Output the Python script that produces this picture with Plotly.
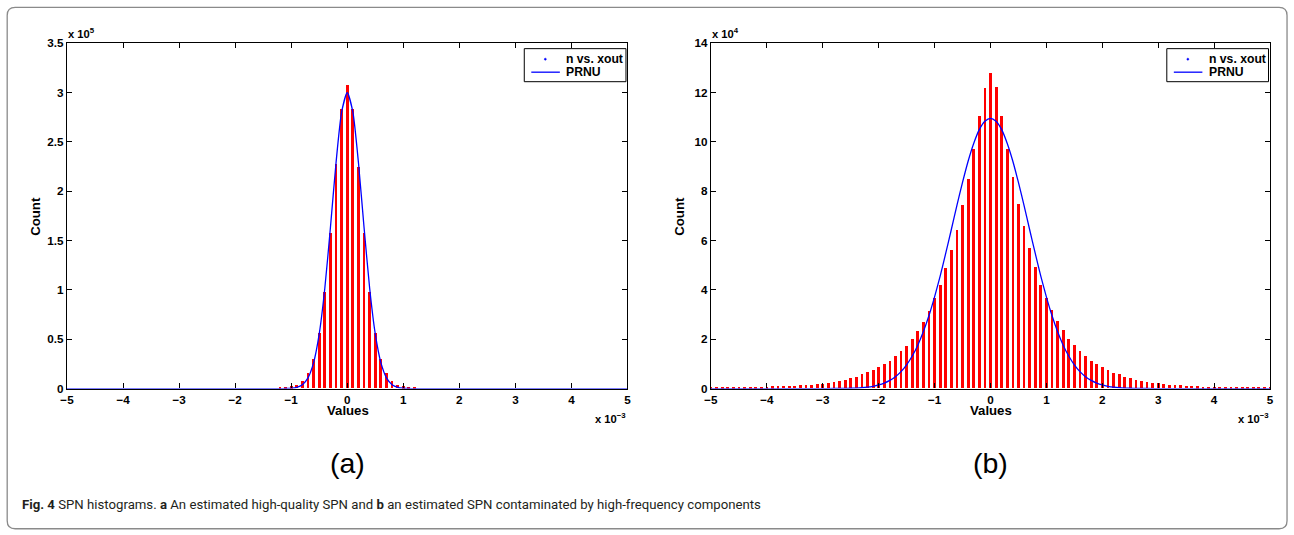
import plotly.graph_objects as go

W, H = 1294, 535

# measured photo mapping of this page (photo = a * page + b); invert it so that
# marks land at the reference pixel positions
SX, OX = 0.9896, 8.41
SY, OY = 0.9745, 6.4


def px(x):
    return ((x - OX) / SX) / W


def py(y):
    return 1 - ((y - OY) / SY) / H


# ---------------- data ----------------
# histogram bin centres (units of 1e-3)
bin_centers = [
    -5.0, -4.9, -4.8, -4.7, -4.6, -4.5, -4.4, -4.3, -4.2, -4.1,
    -4.0, -3.9, -3.8, -3.7, -3.6, -3.5, -3.4, -3.3, -3.2, -3.1,
    -3.0, -2.9, -2.8, -2.7, -2.6, -2.5, -2.4, -2.3, -2.2, -2.1,
    -2.0, -1.9, -1.8, -1.7, -1.6, -1.5, -1.4, -1.3, -1.2, -1.1,
    -1.0, -0.9, -0.8, -0.7, -0.6, -0.5, -0.4, -0.3, -0.2, -0.1,
    0.0,
    0.1, 0.2, 0.3, 0.4, 0.5, 0.6, 0.7, 0.8, 0.9, 1.0,
    1.1, 1.2, 1.3, 1.4, 1.5, 1.6, 1.7, 1.8, 1.9, 2.0,
    2.1, 2.2, 2.3, 2.4, 2.5, 2.6, 2.7, 2.8, 2.9, 3.0,
    3.1, 3.2, 3.3, 3.4, 3.5, 3.6, 3.7, 3.8, 3.9, 4.0,
    4.1, 4.2, 4.3, 4.4, 4.5, 4.6, 4.7, 4.8, 4.9, 5.0,
]

# (a) counts, units of 1e5
counts_a = [
    0, 0, 0, 0, 0, 0, 0, 0, 0, 0,
    0, 0, 0, 0, 0, 0, 0, 0, 0, 0,
    0, 0, 0, 0, 0, 0, 0, 0, 0, 0,
    0, 0, 0, 0, 0, 0, 0, 0, 0.005, 0.01,
    0.02, 0.036, 0.076, 0.155, 0.30, 0.56, 0.98, 1.57, 2.27, 2.83,
    3.07,
    2.83, 2.24, 1.57, 0.98, 0.56, 0.30, 0.155, 0.076, 0.036, 0.02,
    0.012, 0.005, 0, 0, 0, 0, 0, 0, 0, 0,
    0, 0, 0, 0, 0, 0, 0, 0, 0, 0,
    0, 0, 0, 0, 0, 0, 0, 0, 0, 0,
    0, 0, 0, 0, 0, 0, 0, 0, 0, 0,
]

# (b) counts, units of 1e4
counts_b = [
    0.02, 0.02, 0.025, 0.03, 0.035, 0.04, 0.045, 0.05, 0.055, 0.06,
    0.07, 0.075, 0.08, 0.09, 0.10, 0.11, 0.12, 0.13, 0.15, 0.17,
    0.19, 0.22, 0.25, 0.29, 0.34, 0.40, 0.47, 0.56, 0.65, 0.74,
    0.87, 0.99, 1.12, 1.30, 1.49, 1.73, 2.01, 2.34, 2.70, 3.15,
    3.64, 4.20, 4.86, 5.62, 6.43, 7.42, 8.47, 9.69, 11.02, 12.18,
    12.77,
    12.23, 11.03, 9.69, 8.55, 7.48, 6.56, 5.67, 4.92, 4.20, 3.67,
    3.18, 2.72, 2.37, 2.01, 1.74, 1.52, 1.32, 1.12, 0.97, 0.85,
    0.74, 0.63, 0.56, 0.47, 0.42, 0.35, 0.31, 0.26, 0.23, 0.21,
    0.18, 0.15, 0.14, 0.12, 0.11, 0.09, 0.08, 0.07, 0.07, 0.06,
    0.05, 0.045, 0.04, 0.035, 0.03, 0.025, 0.02, 0.02, 0.015, 0.01,
]

# PRNU fitted curve
fit_x_a = [-5.0, -1.4, -1.2, -1.1, -1.0, -0.9, -0.8, -0.7, -0.6, -0.5, -0.4,
           -0.3, -0.2, -0.1, 0.0, 0.1, 0.2, 0.3, 0.4, 0.5, 0.6, 0.7, 0.8,
           0.9, 1.0, 1.1, 1.2, 1.4, 5.0]
fit_y_a = [0, 0, 0.0002, 0.0009, 0.0035, 0.0126, 0.0397, 0.109, 0.263, 0.554,
           1.017, 1.633, 2.289, 2.804, 3.00, 2.804, 2.289, 1.633, 1.017, 0.554,
           0.263, 0.109, 0.0397, 0.0126, 0.0035, 0.0009, 0.0002, 0, 0]

fit_x_b = [-5.0, -3.0, -2.8, -2.6, -2.5, -2.4, -2.3, -2.2, -2.1, -2.0, -1.9,
           -1.8, -1.7, -1.6, -1.5, -1.4, -1.3, -1.2, -1.1, -1.0, -0.9, -0.8,
           -0.7, -0.6, -0.5, -0.4, -0.3, -0.2, -0.1, 0.0, 0.1, 0.2, 0.3, 0.4,
           0.5, 0.6, 0.7, 0.8, 0.9, 1.0, 1.1, 1.2, 1.3, 1.4, 1.5, 1.6, 1.7,
           1.8, 1.9, 2.0, 2.1, 2.2, 2.3, 2.4, 2.5, 2.6, 2.8, 3.0, 5.0]
fit_y_b = [0, 0.0006, 0.002, 0.0073, 0.0127, 0.0216, 0.036, 0.0585, 0.093,
           0.145, 0.221, 0.330, 0.482, 0.688, 0.962, 1.32, 1.76, 2.31, 2.96,
           3.72, 4.56, 5.49, 6.45, 7.43, 8.36, 9.22, 9.94, 10.50, 10.84, 10.96,
           10.84, 10.50, 9.94, 9.22, 8.36, 7.43, 6.45, 5.49, 4.56, 3.72, 2.96,
           2.31, 1.76, 1.32, 0.962, 0.688, 0.482, 0.330, 0.221, 0.145, 0.093,
           0.0585, 0.036, 0.0216, 0.0127, 0.0073, 0.002, 0.0006, 0]

x_ticks = [-5, -4, -3, -2, -1, 0, 1, 2, 3, 4, 5]
y_ticks_a = [0, 0.5, 1, 1.5, 2, 2.5, 3, 3.5]
y_ticks_b = [0, 2, 4, 6, 8, 10, 12, 14]
legend_labels = ["n vs. xout", "PRNU"]
panel_labels = ["(a)", "(b)"]
exp_y = ["5", "4"]
caption_parts = ["Fig. 4", " SPN histograms. ", "a", " An estimated high-quality SPN and ",
                 "b", " an estimated SPN contaminated by high-frequency components"]

# ---------------- layout geometry (reference pixels) ----------------
AX_L = (68.3, 627.7)
AX_R = (711.0, 1269.0)
AX_TOP, AX_BOT = 42.7, 387.5

BAR_COLOR = "#ff0000"
FIT_COLOR = "#0000ff"
TXT = "Liberation Sans"

fig = go.Figure()

fig.add_trace(go.Bar(x=bin_centers, y=counts_a, width=0.05, marker=dict(color=BAR_COLOR, line=dict(width=0)),
                     name=legend_labels[0], showlegend=False, xaxis="x", yaxis="y"))
fig.add_trace(go.Scatter(x=fit_x_a, y=fit_y_a, mode="lines", line=dict(color=FIT_COLOR, width=1.3, shape="spline", smoothing=0.6),
                         name=legend_labels[1], showlegend=False, xaxis="x", yaxis="y"))
fig.add_trace(go.Bar(x=bin_centers, y=counts_b, width=0.05, marker=dict(color=BAR_COLOR, line=dict(width=0)),
                     name=legend_labels[0], showlegend=False, xaxis="x2", yaxis="y2"))
fig.add_trace(go.Scatter(x=fit_x_b, y=fit_y_b, mode="lines", line=dict(color=FIT_COLOR, width=1.3, shape="spline", smoothing=0.6),
                         name=legend_labels[1], showlegend=False, xaxis="x2", yaxis="y2"))

tickfont = dict(family=TXT, size=11.7, color="black", weight="bold")
common = dict(showline=True, linecolor="black", linewidth=1.2, mirror="ticks", ticks="inside",
              ticklen=5, tickcolor="black", tickwidth=1, showgrid=False, zeroline=False,
              tickfont=tickfont, fixedrange=True)

fig.update_layout(
    width=W, height=H,
    margin=dict(l=0, r=0, t=0, b=0),
    paper_bgcolor="white", plot_bgcolor="white",
    showlegend=False,
    bargap=0,
    xaxis=dict(domain=[px(AX_L[0]), px(AX_L[1])], range=[-5, 5], tickvals=x_ticks, anchor="y", **common),
    yaxis=dict(domain=[py(AX_BOT), py(AX_TOP)], range=[0, 3.5], tickvals=y_ticks_a, anchor="x", **common),
    xaxis2=dict(domain=[px(AX_R[0]), px(AX_R[1])], range=[-5, 5], tickvals=x_ticks, anchor="y2", **common),
    yaxis2=dict(domain=[py(AX_BOT), py(AX_TOP)], range=[0, 14], tickvals=y_ticks_b, anchor="x2", **common),
)

annotations = []
shapes = []

for k, (ax, lab) in enumerate([(AX_L, panel_labels[0]), (AX_R, panel_labels[1])]):
    xc = (ax[0] + ax[1]) / 2 + 0.5
    # axis titles
    annotations.append(dict(text="Values", x=px(xc), y=py(409.5), xref="paper", yref="paper",
                            showarrow=False, xanchor="center", yanchor="middle",
                            font=dict(family=TXT, size=13.2, color="black", weight="bold")))
    annotations.append(dict(text="Count", x=px(ax[0] - 31), y=py(215), xref="paper", yref="paper",
                            showarrow=False, xanchor="center", yanchor="middle", textangle=-90,
                            font=dict(family=TXT, size=13.2, color="black", weight="bold")))
    # exponent labels
    annotations.append(dict(text="x 10<sup>%s</sup>" % exp_y[k], x=px(ax[0] - 1), y=py(41), xref="paper", yref="paper",
                            showarrow=False, xanchor="left", yanchor="bottom",
                            font=dict(family=TXT, size=11.2, color="black", weight="bold")))
    annotations.append(dict(text="x 10<sup>\u22123</sup>", x=px(ax[1] + 1), y=py(416.5), xref="paper", yref="paper",
                            showarrow=False, xanchor="right", yanchor="middle",
                            font=dict(family=TXT, size=11.2, color="black", weight="bold")))
    # panel label
    annotations.append(dict(text=lab, x=px(xc), y=py(462), xref="paper", yref="paper",
                            showarrow=False, xanchor="center", yanchor="middle",
                            font=dict(family=TXT, size=28.5, color="black")))
    # manual legend box
    L = ax[1] - 103
    shapes.append(dict(type="rect", xref="paper", yref="paper", x0=px(L), x1=px(ax[1] - 1.5),
                       y0=py(48), y1=py(81), line=dict(color="black", width=1), fillcolor="white", layer="above"))
    shapes.append(dict(type="circle", xref="paper", yref="paper", x0=px(L + 20), x1=px(L + 22),
                       y0=py(57.5), y1=py(59.5), line=dict(color=FIT_COLOR, width=0.5), fillcolor=FIT_COLOR, layer="above"))
    shapes.append(dict(type="line", xref="paper", yref="paper", x0=px(L + 7), x1=px(L + 35.5),
                       y0=py(71.5), y1=py(71.5), line=dict(color=FIT_COLOR, width=1.3), layer="above"))
    annotations.append(dict(text=legend_labels[0], x=px(L + 40), y=py(58.5), xref="paper", yref="paper",
                            showarrow=False, xanchor="left", yanchor="middle",
                            font=dict(family=TXT, size=12.2, color="black", weight="bold")))
    annotations.append(dict(text=legend_labels[1], x=px(L + 40), y=py(71.5), xref="paper", yref="paper",
                            showarrow=False, xanchor="left", yanchor="middle",
                            font=dict(family=TXT, size=12.2, color="black", weight="bold")))

# caption
cap = ("<b>%s</b>%s<b>%s</b>%s<b>%s</b>%s" % tuple(caption_parts))
annotations.append(dict(text=cap, x=px(21), y=py(503), xref="paper", yref="paper",
                        showarrow=False, xanchor="left", yanchor="middle",
                        font=dict(family="Roboto", size=13.2, color="#231f20")))

# rounded outer border
x0, x1, y0, y1, r = 8.6, 1286, 6.8, 527.5, 8


def P(x, y):
    return "%.5f,%.5f" % (px(x), py(y))


path = ("M " + P(x0 + r, y0) + " L " + P(x1 - r, y0) + " Q " + P(x1, y0) + " " + P(x1, y0 + r) +
        " L " + P(x1, y1 - r) + " Q " + P(x1, y1) + " " + P(x1 - r, y1) +
        " L " + P(x0 + r, y1) + " Q " + P(x0, y1) + " " + P(x0, y1 - r) +
        " L " + P(x0, y0 + r) + " Q " + P(x0, y0) + " " + P(x0 + r, y0) + " Z")
shapes.append(dict(type="path", path=path, xref="paper", yref="paper",
                   line=dict(color="#8a8a8a", width=1.3), layer="below"))

fig.update_layout(annotations=annotations, shapes=shapes)

fig.write_html(
    "out.html",
    config={"displayModeBar": False},
    post_script="document.body.style.margin='0px';document.body.style.padding='0px';"
                "document.body.style.overflow='hidden';document.documentElement.style.overflow='hidden';",
)
